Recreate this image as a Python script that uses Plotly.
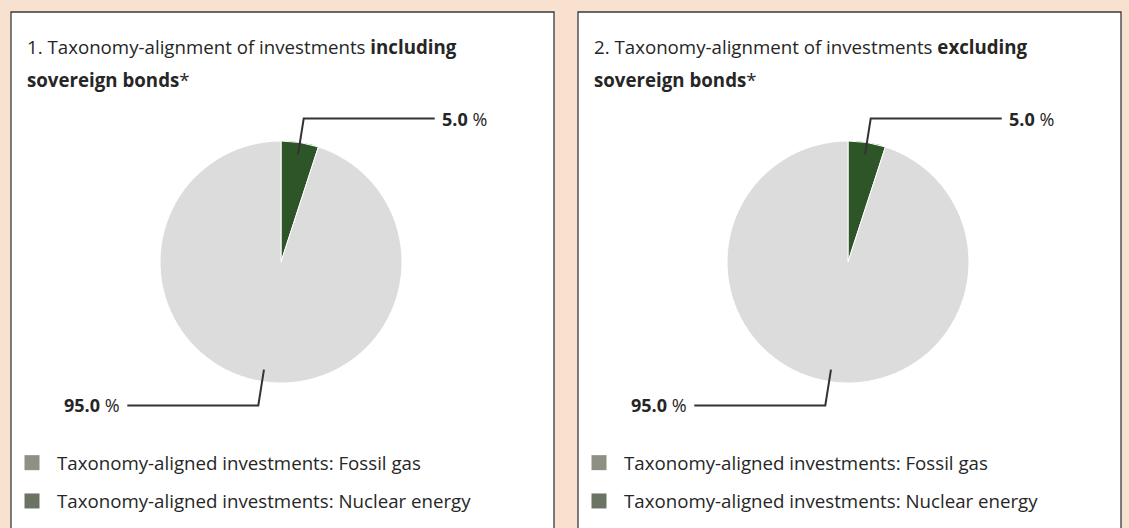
import math
import plotly.graph_objects as go

W, H = 1129, 528

# ---------------- data ----------------
slice_labels = [
    "Taxonomy-aligned investments: Fossil gas",
    "Taxonomy-aligned investments: Nuclear energy",
    "Taxonomy-aligned (no fossil gas and nuclear)",
    "Non Taxonomy-aligned",
]
values_including = [0.0, 0.0, 5.0, 95.0]
values_excluding = [0.0, 0.0, 5.0, 95.0]
slice_colors = ["#8e9083", "#6b7462", "#2d5527", "#dcdcdd"]
legend_labels = slice_labels[:2]
legend_colors = slice_colors[:2]
panel_titles = [
    ("1. Taxonomy-alignment of investments <b>including</b>", "<b>sovereign bonds</b>*"),
    ("2. Taxonomy-alignment of investments <b>excluding</b>", "<b>sovereign bonds</b>*"),
]
panel_values = [values_including, values_excluding]

# ---------------- layout geometry (pixels) ----------------
BG = "#f9e1d0"
TEXT = "#262626"
LINE = "#333333"
FONT = "Open Sans"
TXT_SIZE = 18.7
panel_left = [11, 578]
panel_width = 543
panel_top = 12
pie_cx_off = 270
pie_cy = 262
pie_r = 121


def px(x):
    return x / W


def py(y):
    return 1 - y / H


fig = go.Figure()
shapes = []
annotations = []

for i, (vals, titles) in enumerate(zip(panel_values, panel_titles)):
    left = panel_left[i]
    cx = left + pie_cx_off
    # panel
    shapes.append(dict(type="rect", xref="paper", yref="paper",
                       x0=px(left), x1=px(left + panel_width),
                       y0=-0.2, y1=py(panel_top),
                       fillcolor="white", line=dict(color="#3a3a3a", width=1.3),
                       layer="below"))
    # titles
    annotations.append(dict(text=titles[0], x=px(left + 14), y=py(46), xref="paper", yref="paper",
                            xanchor="left", yanchor="middle", showarrow=False,
                            font=dict(family=FONT, size=TXT_SIZE, color=TEXT)))
    annotations.append(dict(text=titles[1], x=px(left + 14), y=py(80), xref="paper", yref="paper",
                            xanchor="left", yanchor="middle", showarrow=False,
                            font=dict(family=FONT, size=TXT_SIZE, color=TEXT)))
    # pie
    fig.add_trace(go.Pie(
        labels=slice_labels, values=vals, sort=False, direction="clockwise", rotation=0,
        marker=dict(colors=slice_colors, line=dict(color="white", width=1)),
        textinfo="none", showlegend=False, hoverinfo="label+percent",
        domain=dict(x=[px(cx - pie_r), px(cx + pie_r)],
                    y=[py(pie_cy + pie_r), py(pie_cy - pie_r)]),
    ))
    # leader lines + value labels
    total = sum(vals)
    cum = 0.0
    for v in vals:
        if v <= 0:
            cum += v
            continue
        theta = 2 * math.pi * (cum + v / 2) / total
        cum += v
        s, c = math.sin(theta), math.cos(theta)
        x1, y1 = cx + 0.9 * pie_r * s, pie_cy - 0.9 * pie_r * c
        x2, y2 = cx + 1.2 * pie_r * s, pie_cy - 1.2 * pie_r * c
        d = 1 if s >= 0 else -1
        x3 = x2 + d * 131
        shapes.append(dict(type="path", xref="paper", yref="paper",
                           path=f"M {px(x1)} {py(y1)} L {px(x2)} {py(y2)} L {px(x3)} {py(y2)}",
                           line=dict(color=LINE, width=2), layer="above"))
        annotations.append(dict(text=f"<b>{v:.1f}</b> %", x=px(x3 + d * 5), y=py(y2),
                                xref="paper", yref="paper",
                                xanchor="left" if d > 0 else "right", yanchor="middle",
                                showarrow=False, font=dict(family=FONT, size=18, color=TEXT)))

# legends (one per panel)
for i in range(2):
    lname = "legend" if i == 0 else "legend2"
    for j, (lab, col) in enumerate(zip(legend_labels, legend_colors)):
        fig.add_trace(go.Scatter(
            x=[None], y=[None], mode="markers", name=lab,
            marker=dict(symbol="square", size=15, color=col),
            legend=lname, legendgroup=f"g{i}{j}", showlegend=True,
        ))

legend_common = dict(
    xanchor="left", yanchor="top", bgcolor="rgba(0,0,0,0)", borderwidth=0,
    font=dict(family=FONT, size=TXT_SIZE, color=TEXT), itemwidth=40,
    tracegroupgap=11, orientation="v", itemclick=False, itemdoubleclick=False,
)

fig.update_layout(
    width=W, height=H,
    margin=dict(l=0, r=0, t=0, b=0),
    paper_bgcolor=BG, plot_bgcolor="rgba(0,0,0,0)",
    xaxis=dict(visible=False), yaxis=dict(visible=False),
    shapes=shapes, annotations=annotations,
    legend=dict(x=px(panel_left[0] - 4), y=py(444), **legend_common),
    legend2=dict(x=px(panel_left[1] - 4), y=py(444), **legend_common),
    showlegend=True,
)

fig.write_html("out.html", config={"displayModeBar": False},
               post_script="document.body.style.margin='0';")
